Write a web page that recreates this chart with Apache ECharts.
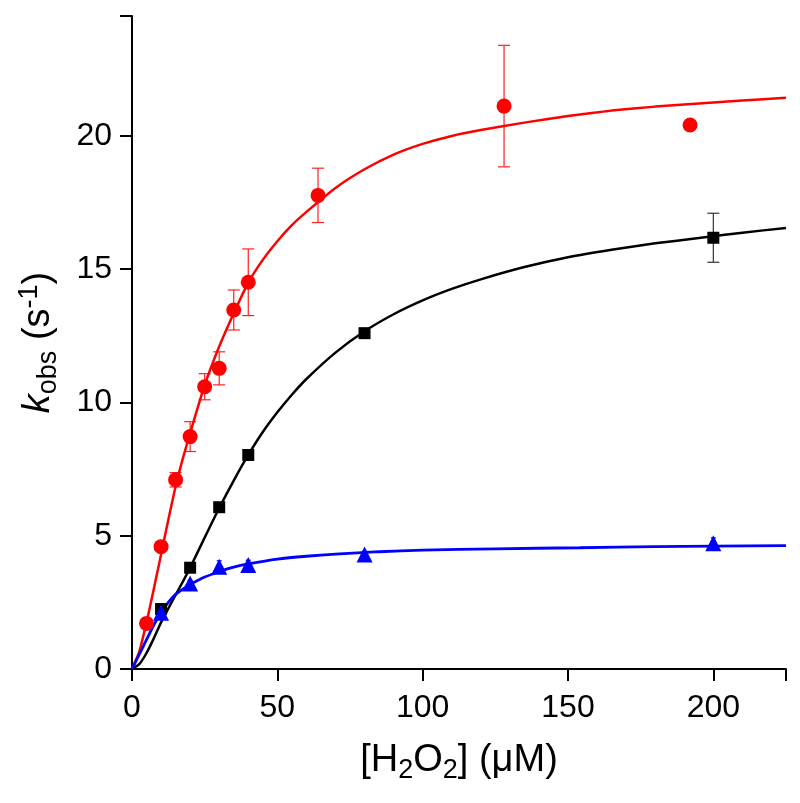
<!DOCTYPE html>
<html>
<head>
<meta charset="utf-8">
<script src="https://cdn.jsdelivr.net/npm/echarts@6/dist/echarts.min.js"></script>
<style>html,body{margin:0;padding:0;background:#fff;}#c{width:800px;height:803px;}</style>
</head>
<body>
<div id="c"></div>
<script>
// Measured data points
const redX = [5, 10, 15, 20, 25, 30, 35, 40, 64, 128, 192];
const redY = [1.71, 4.59, 7.10, 8.72, 10.59, 11.28, 13.47, 14.51, 17.77, 21.12, 20.41];
const redErr = [0, 0, 0.27, 0.56, 0.49, 0.62, 0.75, 1.25, 1.02, 2.28, 0];

const blackX = [10, 20, 30, 40, 80, 200];
const blackY = [2.25, 3.80, 6.07, 8.03, 12.60, 16.18];
const blackErr = [0, 0, 0, 0, 0, 0.92];

const blueX = [10, 20, 30, 40, 80, 200];
const blueY = [2.11, 3.21, 3.84, 3.90, 4.30, 4.72];
const blueErr = [0.1, 0.12, 0.22, 0.18, 0.12, 0.2];

// Fitted curves
const redFitX = [0, 2.5, 5, 7.5, 10, 12.5, 15, 17.5, 20, 25, 30, 35, 40, 45, 50, 55, 60, 70, 80, 90, 100, 110, 120, 135, 150, 165, 180, 195, 210, 225];
const redFitY = [0, 0.65, 1.75, 3.0, 4.3, 5.6, 6.85, 7.9, 8.85, 10.65, 12.1, 13.35, 14.5, 15.35, 16.05, 16.65, 17.15, 18.05, 18.75, 19.3, 19.7, 20.0, 20.22, 20.5, 20.75, 20.95, 21.1, 21.22, 21.33, 21.43];

const blackFitX = [0, 2.5, 5, 7.5, 10, 12.5, 15, 17.5, 20, 25, 30, 35, 40, 45, 50, 55, 60, 70, 80, 90, 100, 110, 120, 135, 150, 165, 180, 195, 210, 225];
const blackFitY = [0, 0.18, 0.6, 1.15, 1.75, 2.27, 2.78, 3.28, 3.8, 4.93, 6.04, 7.07, 8.03, 8.89, 9.63, 10.29, 10.88, 11.87, 12.67, 13.31, 13.83, 14.26, 14.62, 15.08, 15.45, 15.73, 15.97, 16.17, 16.37, 16.55];

const blueFitX = [0, 2.5, 5, 7.5, 10, 12.5, 15, 17.5, 20, 25, 30, 35, 40, 50, 60, 70, 85, 100, 125, 154, 180, 200, 225];
const blueFitY = [0, 0.55, 1.1, 1.65, 2.12, 2.5, 2.8, 3.0, 3.17, 3.45, 3.65, 3.82, 3.94, 4.12, 4.23, 4.31, 4.40, 4.46, 4.51, 4.55, 4.59, 4.61, 4.63];

const xTicks = [0, 50, 100, 150, 200];
const yTicks = [0, 5, 10, 15, 20];

const FONT = 'Liberation Sans, Arial, sans-serif';

function zip(xs, ys) { return xs.map((x, i) => [x, ys[i]]); }
function errData(xs, ys, es) {
  const out = [];
  xs.forEach((x, i) => { if (es[i] > 0) out.push([x, ys[i] - es[i], ys[i] + es[i]]); });
  return out;
}
function errSeries(xs, ys, es, color, hw) {
  return {
    type: 'custom',
    data: errData(xs, ys, es),
    z: 1,
    renderItem: function (params, api) {
      const x = api.value(0);
      const lo = api.coord([x, api.value(1)]);
      const hi = api.coord([x, api.value(2)]);
      const st = { stroke: color, lineWidth: 1.2 };
      return {
        type: 'group',
        children: [
          { type: 'line', shape: { x1: lo[0], y1: lo[1], x2: hi[0], y2: hi[1] }, style: st },
          { type: 'line', shape: { x1: lo[0] - hw, y1: lo[1], x2: lo[0] + hw, y2: lo[1] }, style: st },
          { type: 'line', shape: { x1: hi[0] - hw, y1: hi[1], x2: hi[0] + hw, y2: hi[1] }, style: st }
        ]
      };
    }
  };
}

const chart = echarts.init(document.getElementById('c'));
chart.setOption({
  animation: false,
  backgroundColor: '#fff',
  grid: { left: 132, right: 14, top: 16, bottom: 134, containLabel: false },
  xAxis: {
    type: 'value', min: 0, max: 225, interval: 50,
    axisLine: { show: true, lineStyle: { color: '#000', width: 2 } },
    axisTick: { show: true, length: 12, lineStyle: { color: '#000', width: 2 } },
    axisLabel: {
      margin: 23, fontSize: 32, color: '#000', fontFamily: FONT,
      formatter: v => xTicks.indexOf(v) >= 0 ? String(v) : ''
    },
    splitLine: { show: false },
    name: '{n|[H}{s|2}{n|O}{s|2}{n|] (μM)}',
    nameLocation: 'middle', nameGap: 68,
    nameTextStyle: {
      rich: {
        n: { fontSize: 38, fontFamily: FONT, color: '#000' },
        s: { fontSize: 27, fontFamily: FONT, color: '#000', padding: [20, 0, 0, 0] }
      }
    }
  },
  yAxis: {
    type: 'value', min: 0, max: 24.5, interval: 5,
    axisLine: { show: true, lineStyle: { color: '#000', width: 2 } },
    axisTick: { show: true, length: 12, lineStyle: { color: '#000', width: 2 } },
    axisLabel: {
      margin: 20, fontSize: 32, color: '#000', fontFamily: FONT,
      formatter: v => yTicks.indexOf(v) >= 0 ? String(v) : ''
    },
    splitLine: { show: false },
    name: '{k|k}{s|obs}{n| (s}{p|-1}{n|)}',
    nameLocation: 'middle', nameGap: 70,
    nameTextStyle: {
      rich: {
        k: { fontSize: 38, fontFamily: FONT, color: '#000', fontStyle: 'italic' },
        n: { fontSize: 38, fontFamily: FONT, color: '#000' },
        s: { fontSize: 27, fontFamily: FONT, color: '#000', padding: [20, 0, 0, 0] },
        p: { fontSize: 27, fontFamily: FONT, color: '#000', padding: [0, 0, 18, 0] }
      }
    }
  },
  series: [
    { type: 'line', data: zip(redFitX, redFitY), smooth: 0.2, showSymbol: false, lineStyle: { color: '#ff0000', width: 2.5 }, z: 3 },
    { type: 'line', data: zip(blackFitX, blackFitY), smooth: 0.2, showSymbol: false, lineStyle: { color: '#000000', width: 2.5 }, z: 3 },
    { type: 'line', data: zip(blueFitX, blueFitY), smooth: 0.2, showSymbol: false, lineStyle: { color: '#0000ff', width: 2.8 }, z: 3 },
    errSeries(redX, redY, redErr, '#ff2020', 6),
    errSeries(blackX, blackY, blackErr, '#333333', 6),
    errSeries(blueX, blueY, blueErr, '#0000ff', 2.5),
    { type: 'scatter', data: zip(redX, redY), symbol: 'circle', symbolSize: 15, itemStyle: { color: '#ff0000', opacity: 1 }, z: 4 },
    { type: 'scatter', data: zip(blackX, blackY), symbol: 'rect', symbolSize: 12, itemStyle: { color: '#000000', opacity: 1 }, z: 4 },
    { type: 'scatter', data: zip(blueX, blueY), symbol: 'triangle', symbolSize: 16, itemStyle: { color: '#0000ff', opacity: 1 }, z: 4 }
  ]
});
</script>
</body>
</html>
